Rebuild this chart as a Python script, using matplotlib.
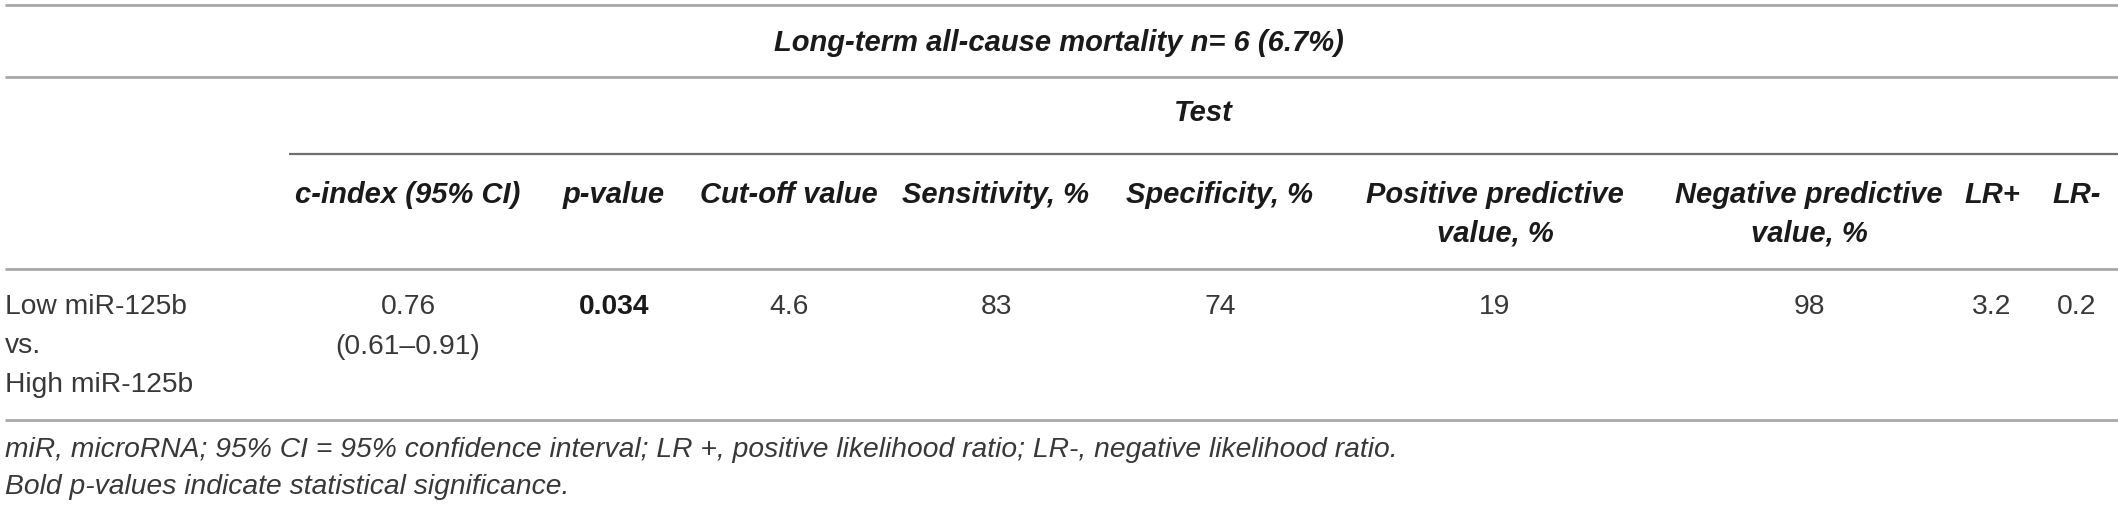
import matplotlib
matplotlib.use("Agg")
import matplotlib.pyplot as plt

plt.rcParams['font.family'] = ['Liberation Sans', 'DejaVu Sans']

# table content
title = "Long-term all-cause mortality n= 6 (6.7%)"
group_label = "Test"
headers = [
    ["c-index (95% CI)"],
    ["p-value"],
    ["Cut-off value"],
    ["Sensitivity, %"],
    ["Specificity, %"],
    ["Positive predictive", "value, %"],
    ["Negative predictive", "value, %"],
    ["LR+"],
    ["LR-"],
]
row_label = ["Low miR-125b", "vs.", "High miR-125b"]
row_values = [
    ["0.76", "(0.61\u20130.91)"],
    ["0.034"],
    ["4.6"],
    ["83"],
    ["74"],
    ["19"],
    ["98"],
    ["3.2"],
    ["0.2"],
]
bold_values = ["0.034"]
footnotes = [
    "miR, microRNA; 95% CI = 95% confidence interval; LR +, positive likelihood ratio; LR-, negative likelihood ratio.",
    "Bold p-values indicate statistical significance.",
]

# layout (pixels)
W, H = 2118, 505
col_x = [408, 614, 789, 996, 1220, 1495, 1809, 1992, 2077]
fs_head = 21
fs_body = 20.3
dark = "#1a1a1a"
body = "#383838"

fig = plt.figure(figsize=(W / 100, H / 100), dpi=100)
ax = fig.add_axes([0, 0, 1, 1])
ax.set_xlim(0, W)
ax.set_ylim(H, 0)
ax.axis("off")

# rules
for y, x0, col, lw in [(5, 5, "#a8a8a8", 2.0), (76.5, 5, "#a8a8a8", 2.0),
                       (153.5, 289, "#6e6e6e", 1.6),
                       (269, 5, "#a8a8a8", 2.0), (420, 5, "#a8a8a8", 2.0)]:
    ax.plot([x0, W], [y, y], color=col, lw=lw, solid_capstyle="butt")

ax.text(W / 2, 43, title, ha="center", va="center", fontsize=fs_head,
        fontweight="bold", style="italic", color=dark)
ax.text((289 + W) / 2, 113, group_label, ha="center", va="center", fontsize=fs_head,
        fontweight="bold", style="italic", color=dark)

for x, lines in zip(col_x, headers):
    for k, s in enumerate(lines):
        ax.text(x, 195 + k * 38, s, ha="center", va="center", fontsize=fs_head,
                fontweight="bold", style="italic", color=dark)

for k, s in enumerate(row_label):
    ax.text(5, 307 + k * 39, s, ha="left", va="center", fontsize=fs_body, color=body)

for x, vals in zip(col_x, row_values):
    for k, s in enumerate(vals):
        is_bold = s in bold_values
        ax.text(x, 307 + k * 40, s, ha="center", va="center", fontsize=fs_body,
                fontweight="bold" if is_bold else "normal",
                color=dark if is_bold else body)

for k, s in enumerate(footnotes):
    ax.text(5, 450 + k * 37, s, ha="left", va="center", fontsize=fs_body,
            style="italic", color=body)

fig.savefig("out.png", dpi=100)
